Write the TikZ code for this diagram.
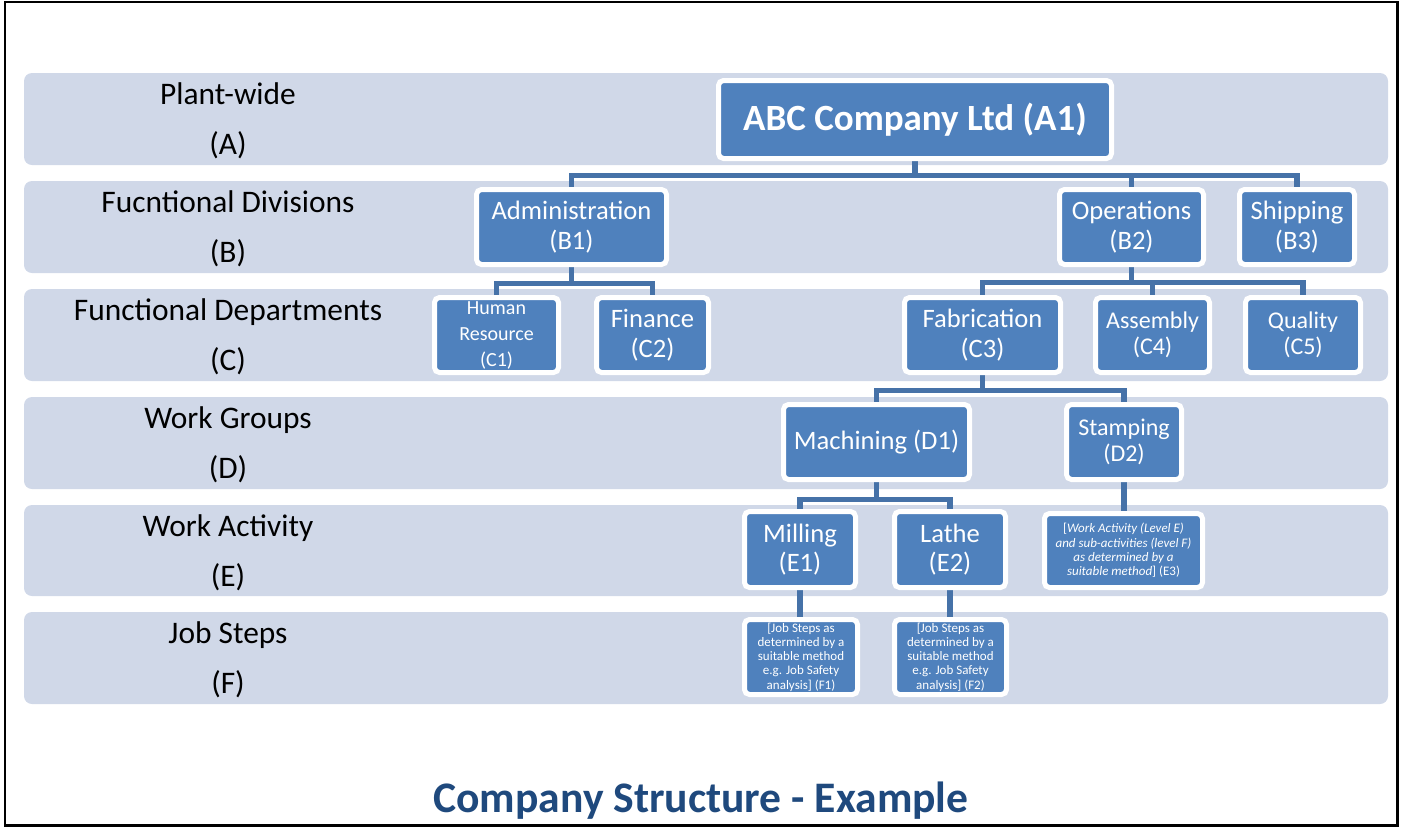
\documentclass[tikz,border=0pt]{standalone}
\usepackage{fontspec}
\setmainfont{Carlito}
\pgfdeclarelayer{back}
\pgfdeclarelayer{mid}
\pgfsetlayers{back,mid,main}
\definecolor{bandc}{HTML}{D0D8E8}
\definecolor{boxc}{HTML}{4F81BD}
\definecolor{linec}{HTML}{4672A8}
\definecolor{titlec}{HTML}{1F497D}
\tikzset{
  orgbox/.style={draw=white, line width=2.5pt, fill=boxc, rounded corners=2.5pt,
    text=white, align=center, inner sep=0pt},
  conn/.style={draw=linec, line width=2.8pt},
  lvl/.style={anchor=base, font=\fontsize{15.7}{18}\selectfont, text=black},
  band/.style={fill=bandc, rounded corners=4pt},
  fbig/.style={font=\fontsize{13.3}{14.8}\selectfont},
  fmid/.style={font=\fontsize{12}{13}\selectfont},
  fsmall/.style={font=\fontsize{10}{13}\selectfont},
  ftiny/.style={font=\fontsize{6.5}{7.15}\selectfont},
  rowh/.style={minimum height=37.5pt},
}
\begin{document}
\begin{tikzpicture}[x=0.5pt,y=-0.5pt]
\useasboundingbox (0,0) rectangle (1403,827);
\draw[line width=1.3pt] (5,2) rectangle (1397.5,825.5);

% bands
\begin{pgfonlayer}{back}
\fill[band] (24,73) rectangle (1388,165);
\fill[band] (24,181) rectangle (1388,273);
\fill[band] (24,289) rectangle (1388,381);
\fill[band] (24,397) rectangle (1388,489);
\fill[band] (24,505) rectangle (1388,596);
\fill[band] (24,612) rectangle (1388,704);
\end{pgfonlayer}

% level labels
\node[lvl] (la1) at (228,104) {Plant-wide};
\node[lvl] (la2) at (228,154) {(A)};
\node[lvl] (lb1) at (228,212) {Fucntional Divisions};
\node[lvl] (lb2) at (228,262) {(B)};
\node[lvl] (lc1) at (228,320) {Functional Departments};
\node[lvl] (lc2) at (228,370) {(C)};
\node[lvl] (ld1) at (228,428) {Work Groups};
\node[lvl] (ld2) at (228,478) {(D)};
\node[lvl] (le1) at (228,536) {Work Activity};
\node[lvl] (le2) at (228,586) {(E)};
\node[lvl] (lf1) at (228,643) {Job Steps};
\node[lvl] (lf2) at (228,693) {(F)};

% boxes
\node[orgbox, minimum width=196.5pt, minimum height=39pt,
  font=\fontsize{18.5}{22}\selectfont\bfseries] (a1) at (915,119.5) {ABC Company Ltd (A1)};

\node[orgbox, fbig, rowh, minimum width=95pt] (b1) at (571.5,227) {Administration\\(B1)};
\node[orgbox, fbig, rowh, minimum width=72pt] (b2) at (1131.5,227) {Operations\\(B2)};
\node[orgbox, fbig, rowh, minimum width=57.5pt] (b3) at (1297,227) {Shipping\\(B3)};

\node[orgbox, fsmall, rowh, minimum width=62pt] (c1) at (496.5,335) {Human\\Resource\\(C1)};
\node[orgbox, fbig, rowh, minimum width=56pt] (c2) at (652.5,335) {Finance\\(C2)};
\node[orgbox, fbig, rowh, minimum width=78pt] (c3) at (982.5,335) {Fabrication\\(C3)};
\node[orgbox, fmid, rowh, minimum width=57pt] (c4) at (1152.5,335) {Assembly\\(C4)};
\node[orgbox, fmid, rowh, minimum width=57.5pt] (c5) at (1303,335) {Quality\\(C5)};

\node[orgbox, fbig, rowh, minimum width=93pt] (d1) at (876.5,442) {Machining (D1)};
\node[orgbox, fmid, rowh, minimum width=57.5pt] (d2) at (1124,442) {Stamping\\(D2)};

\node[orgbox, fbig, minimum height=38pt, minimum width=55.5pt] (e1) at (800,549.5) {Milling\\(E1)};
\node[orgbox, fbig, minimum height=38pt, minimum width=55.5pt] (e2) at (950,549.5) {Lathe\\(E2)};
\node[orgbox, ftiny, minimum height=37pt, minimum width=79pt] (e3) at (1123.5,550.5)
  {[\textit{Work Activity (Level E)}\\\textit{and sub-activities (level F)}\\\textit{as determined by a}\\\textit{suitable method}] (E3)};

\node[orgbox, ftiny, rowh, minimum width=56.5pt] (f1) at (801,657)
  {[Job Steps as\\determined by a\\suitable method\\e.g. Job Safety\\analysis] (F1)};
\node[orgbox, ftiny, rowh, minimum width=56pt] (f2) at (950.5,657)
  {[Job Steps as\\determined by a\\suitable method\\e.g. Job Safety\\analysis] (F2)};

% connectors
\begin{pgfonlayer}{mid}
\draw[conn] (a1.south) -- ++(0,14.5) -| (b1.north);
\draw[conn] (a1.south) -- ++(0,14.5) -| (b2.north);
\draw[conn] (a1.south) -- ++(0,14.5) -| (b3.north);
\draw[conn] (b1.south) -- ++(0,16.5) -| (c1.north);
\draw[conn] (b1.south) -- ++(0,16.5) -| (c2.north);
\draw[conn] (b2.south) -- ++(0,15.5) -| (c3.north);
\draw[conn] (b2.south) -- ++(0,15.5) -| (c4.north);
\draw[conn] (b2.south) -- ++(0,15.5) -| (c5.north);
\draw[conn] (c3.south) -- ++(0,15.5) -| (d1.north);
\draw[conn] (c3.south) -- ++(0,15.5) -| (d2.north);
\draw[conn] (d1.south) -- ++(0,17.5) -| (e1.north);
\draw[conn] (d1.south) -- ++(0,17.5) -| (e2.north);
\draw[conn] (d2.south) -- (d2.south |- e3.north);
\draw[conn] (e1.south) -- (e1.south |- f1.north);
\draw[conn] (e2.south) -- (e2.south |- f2.north);
\end{pgfonlayer}

% title
\node[anchor=base, text=titlec, font=\fontsize{21.8}{26}\selectfont\bfseries] (title) at (701,812)
  {Company Structure - Example};
\end{tikzpicture}
\end{document}
